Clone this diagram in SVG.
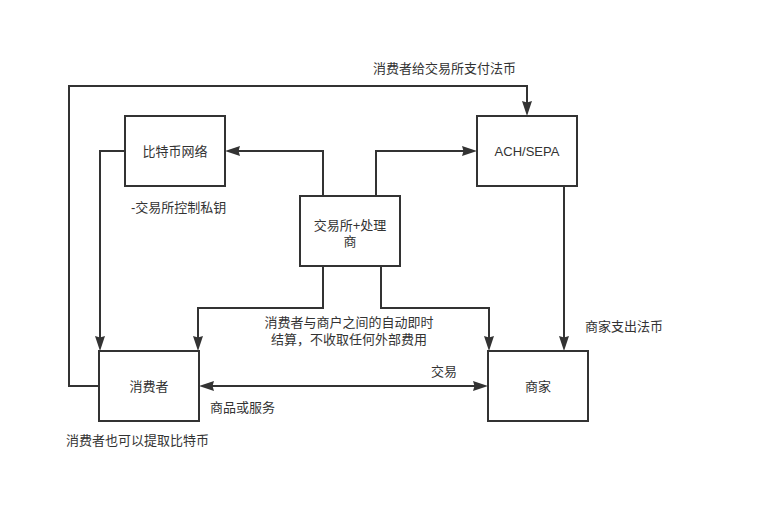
<svg xmlns="http://www.w3.org/2000/svg" width="766" height="523" viewBox="0 0 766 523">
<style>
.box{fill:#ffffff;stroke:#333333;stroke-width:2}
.edge{fill:none;stroke:#333333;stroke-width:2}
text{font-family:"Liberation Sans","Noto Sans CJK SC",sans-serif;font-size:13px;fill:#333333}
.c{text-anchor:middle}
</style>
<defs>
<marker id="arr" viewBox="0 0 15 10" refX="11" refY="5" markerWidth="15" markerHeight="10" markerUnits="userSpaceOnUse" orient="auto-start-reverse">
<path d="M0,0 L15,5 L0,10 L1.5,5 z" fill="#333333"/>
</marker>
</defs>
<rect width="766" height="523" fill="#ffffff"/>
<g id="connectors">
<path class="edge" d="M323,196 V151 H229" marker-end="url(#arr)"/>
<path class="edge" d="M376,196 V151 H473" marker-end="url(#arr)"/>
<path class="edge" d="M125,151 H100 V347" marker-end="url(#arr)"/>
<path class="edge" d="M99,386 H69 V86 H527 V112" marker-end="url(#arr)"/>
<path class="edge" d="M323,266 V308 H198 V347" marker-end="url(#arr)"/>
<path class="edge" d="M381,266 V308 H489 V347" marker-end="url(#arr)"/>
<path class="edge" d="M564,186 V347" marker-end="url(#arr)"/>
<path class="edge" d="M203,386 H484" marker-start="url(#arr)" marker-end="url(#arr)"/>
</g>
<g id="labels">
<text x="373" y="73">消费者给交易所支付法币</text>
<text x="131" y="212">-交易所控制私钥</text>
<text class="c" x="349" y="327">消费者与商户之间的自动即时</text>
<text class="c" x="349" y="344">结算，不收取任何外部费用</text>
<text x="585" y="331">商家支出法币</text>
<text class="c" x="444" y="376">交易</text>
<text x="210" y="412">商品或服务</text>
<text x="66" y="445">消费者也可以提取比特币</text>
</g>
<g id="node-bitcoin">
<rect class="box" x="125" y="116" width="100" height="70"/>
<text class="c" x="175" y="155.5">比特币网络</text>
</g>
<g id="node-ach">
<rect class="box" x="477" y="116" width="100" height="70"/>
<text class="c" x="527" y="155.5">ACH/SEPA</text>
</g>
<g id="node-exchange">
<rect class="box" x="300" y="196" width="100" height="70"/>
<text class="c" x="350" y="229.5">交易所+处理</text>
<text class="c" x="350" y="245.5">商</text>
</g>
<g id="node-consumer">
<rect class="box" x="99" y="351" width="100" height="70"/>
<text class="c" x="149" y="390.5">消费者</text>
</g>
<g id="node-merchant">
<rect class="box" x="488" y="351" width="100" height="70"/>
<text class="c" x="538" y="390.5">商家</text>
</g>
</svg>
